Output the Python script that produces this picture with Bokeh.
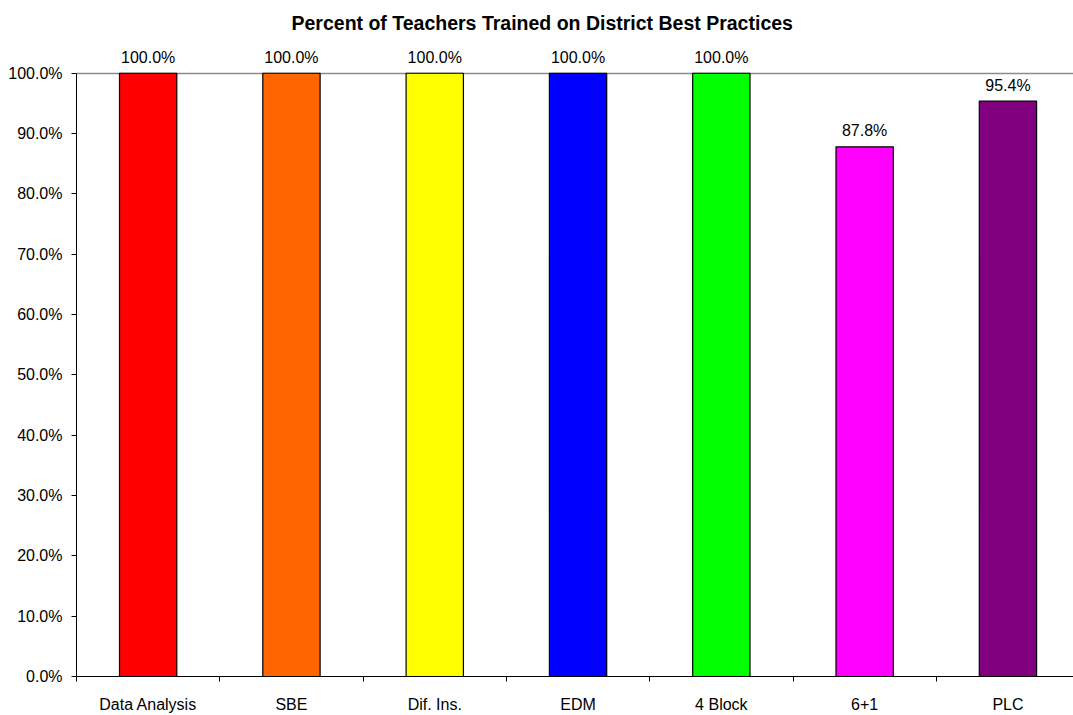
from bokeh.plotting import figure
from bokeh.models import FixedTicker, NumeralTickFormatter, ColumnDataSource, Range1d
from bokeh.core.properties import value
from bokeh.embed import file_html
from bokeh.resources import INLINE

categories = ["Data Analysis", "SBE", "Dif. Ins.", "EDM", "4 Block", "6+1", "PLC"]
percent_trained = [1.000, 1.000, 1.000, 1.000, 1.000, 0.878, 0.954]
bar_colors = ["#FF0000", "#FF6600", "#FFFF00", "#0000FF", "#00FF00", "#FF00FF", "#800080"]
value_labels = ["100.0%", "100.0%", "100.0%", "100.0%", "100.0%", "87.8%", "95.4%"]
y_ticks = [0.0, 0.1, 0.2, 0.3, 0.4, 0.5, 0.6, 0.7, 0.8, 0.9, 1.0]

FONT = "Liberation Sans"

n = len(categories)
centers = [i + 0.5 for i in range(n)]
bounds = [float(i) for i in range(n + 1)]

src = ColumnDataSource(dict(x=centers, top=percent_trained, color=bar_colors,
                            label=value_labels, cat=categories))

# frame: top at 44px, bottom at 681px; 1.0 maps to 73px
p = figure(width=1073, height=715, output_backend="svg", toolbar_location=None,
           x_range=Range1d(0, 997 / 143.3), y_range=Range1d(0, 637 / 608),
           min_border_left=76, min_border_right=0, min_border_top=44, min_border_bottom=34)

p.title.text = "Percent of Teachers Trained on District Best Practices"
p.title.text_font = FONT
p.title.text_font_size = "19.5px"
p.title.text_font_style = "bold"
p.title.text_color = "#000000"
p.title.align = "left"
p.title.offset = 215
p.title.vertical_align = "top"
p.title.standoff = 18

p.vbar(x="x", top="top", width=0.4, bottom=0, fill_color="color",
       line_color="#000000", line_width=1.2, source=src)

p.text(x="x", y="top", text="label", source=src, text_align="center",
       text_baseline="alphabetic", y_offset=-16, text_font=value(FONT),
       text_font_size="16px", text_color="#000000")

p.outline_line_color = None
p.xgrid.visible = False
p.ygrid.ticker = FixedTicker(ticks=[1.0])
p.ygrid.grid_line_color = "#8C8C8C"
p.ygrid.grid_line_width = 1.5
p.ygrid.level = "underlay"

p.yaxis.ticker = FixedTicker(ticks=y_ticks)
p.yaxis.bounds = (0, 1.0)
p.yaxis.formatter = NumeralTickFormatter(format="0.0%")
p.yaxis.axis_line_color = "#000000"
p.yaxis.major_tick_line_color = "#000000"
p.yaxis.major_tick_in = 0
p.yaxis.major_tick_out = 5
p.yaxis.minor_tick_line_color = None
p.yaxis.major_label_text_font = FONT
p.yaxis.major_label_text_font_size = "16px"
p.yaxis.major_label_text_color = "#000000"
p.yaxis.major_label_standoff = 9

p.xaxis.ticker = FixedTicker(ticks=centers, minor_ticks=bounds)
p.xaxis.major_label_overrides = {c: cat for c, cat in zip(centers, categories)}
p.xaxis.axis_line_color = "#000000"
p.xaxis.major_tick_line_color = None
p.xaxis.major_tick_in = 0
p.xaxis.major_tick_out = 0
p.xaxis.minor_tick_line_color = "#000000"
p.xaxis.minor_tick_in = 0
p.xaxis.minor_tick_out = 5
p.xaxis.major_label_text_font = FONT
p.xaxis.major_label_text_font_size = "16px"
p.xaxis.major_label_text_color = "#000000"
p.xaxis.major_label_standoff = 14

open("out.html", "w").write(file_html(p, INLINE))
